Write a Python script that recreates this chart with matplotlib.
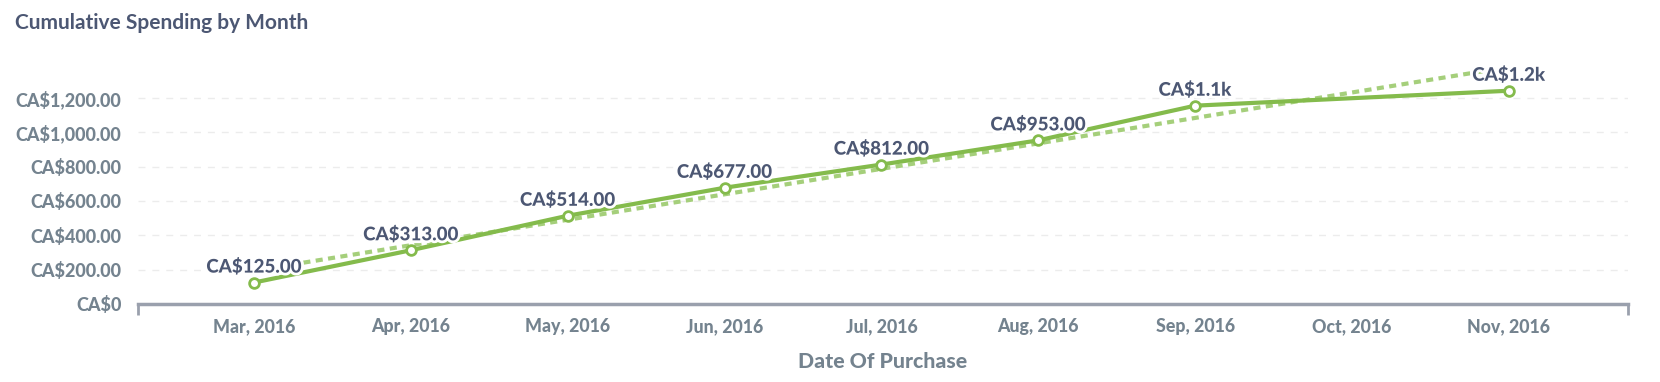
import matplotlib.pyplot as plt
import matplotlib.patheffects as pe

# ======
# data
# ======
months = ["Mar, 2016", "Apr, 2016", "May, 2016", "Jun, 2016", "Jul, 2016",
          "Aug, 2016", "Sep, 2016", "Oct, 2016", "Nov, 2016"]
point_idx = [0, 1, 2, 3, 4, 5, 6, 8]          # no data for Oct
spending = [125, 313, 514, 677, 812, 953, 1155, 1242]
point_labels = ["CA$125.00", "CA$313.00", "CA$514.00", "CA$677.00", "CA$812.00",
                "CA$953.00", "CA$1.1k", "CA$1.2k"]
trend_idx = [0, 8]
trend_vals = [194, 1380]
yticks = [0, 200, 400, 600, 800, 1000, 1200]
ytick_labels = ["CA$0", "CA$200.00", "CA$400.00", "CA$600.00", "CA$800.00",
                "CA$1,000.00", "CA$1,200.00"]

plt.rcParams['font.family'] = ['Lato', 'DejaVu Sans']

green = "#84bb4c"
dark = "#4c5773"
gray = "#74838f"
w = 900

fig = plt.figure(figsize=(16.6, 3.82), dpi=100)
ax = fig.add_axes([0.0831, 0.2042, 0.8976, 0.6293])

ax.plot(trend_idx, trend_vals, color="#a5cf7b", lw=3, ls=(0, (1.7, 1.3)), zorder=2)
ax.plot(point_idx, spending, color=green, lw=3, marker="o", ms=7,
        mfc="white", mec=green, mew=2, zorder=3)

for x, y, t in zip(point_idx, spending, point_labels):
    ax.annotate(t, (x, y), xytext=(0, 5), textcoords="offset points",
                ha="center", va="bottom", fontsize=13.5, fontweight=w,
                color=dark, zorder=5,
                path_effects=[pe.withStroke(linewidth=4, foreground="white")])

ax.set_xlim(-0.74, 8.76)
ax.set_ylim(0, 1400)
ax.set_xticks(range(len(months)))
ax.set_xticklabels(months, fontsize=12.8, fontweight=w, color=gray)
ax.set_yticks(yticks)
ax.set_yticklabels(ytick_labels, fontsize=13, fontweight=w, color=gray)
ax.tick_params(axis="x", length=0, pad=10)
ax.tick_params(axis="y", length=0, pad=12)
ax.set_xticks([-0.74, 8.76], minor=True)
ax.tick_params(axis="x", which="minor", length=8, width=2, color="#9aa0ad")

for s in ["top", "right", "left"]:
    ax.spines[s].set_visible(False)
ax.spines["bottom"].set_color("#9aa0ad")
ax.spines["bottom"].set_linewidth(2.5)

for y in yticks[1:]:
    ax.axhline(y, color="#ececec", lw=1, ls=(0, (5, 5)), zorder=0)

ax.set_xlabel("Date Of Purchase", fontsize=15.3, fontweight=w, color=gray, labelpad=12)
fig.text(0.009, 0.94, "Cumulative Spending by Month", fontsize=15,
         fontweight="bold", color=dark, va="center")

fig.savefig("out.png", dpi=100)
